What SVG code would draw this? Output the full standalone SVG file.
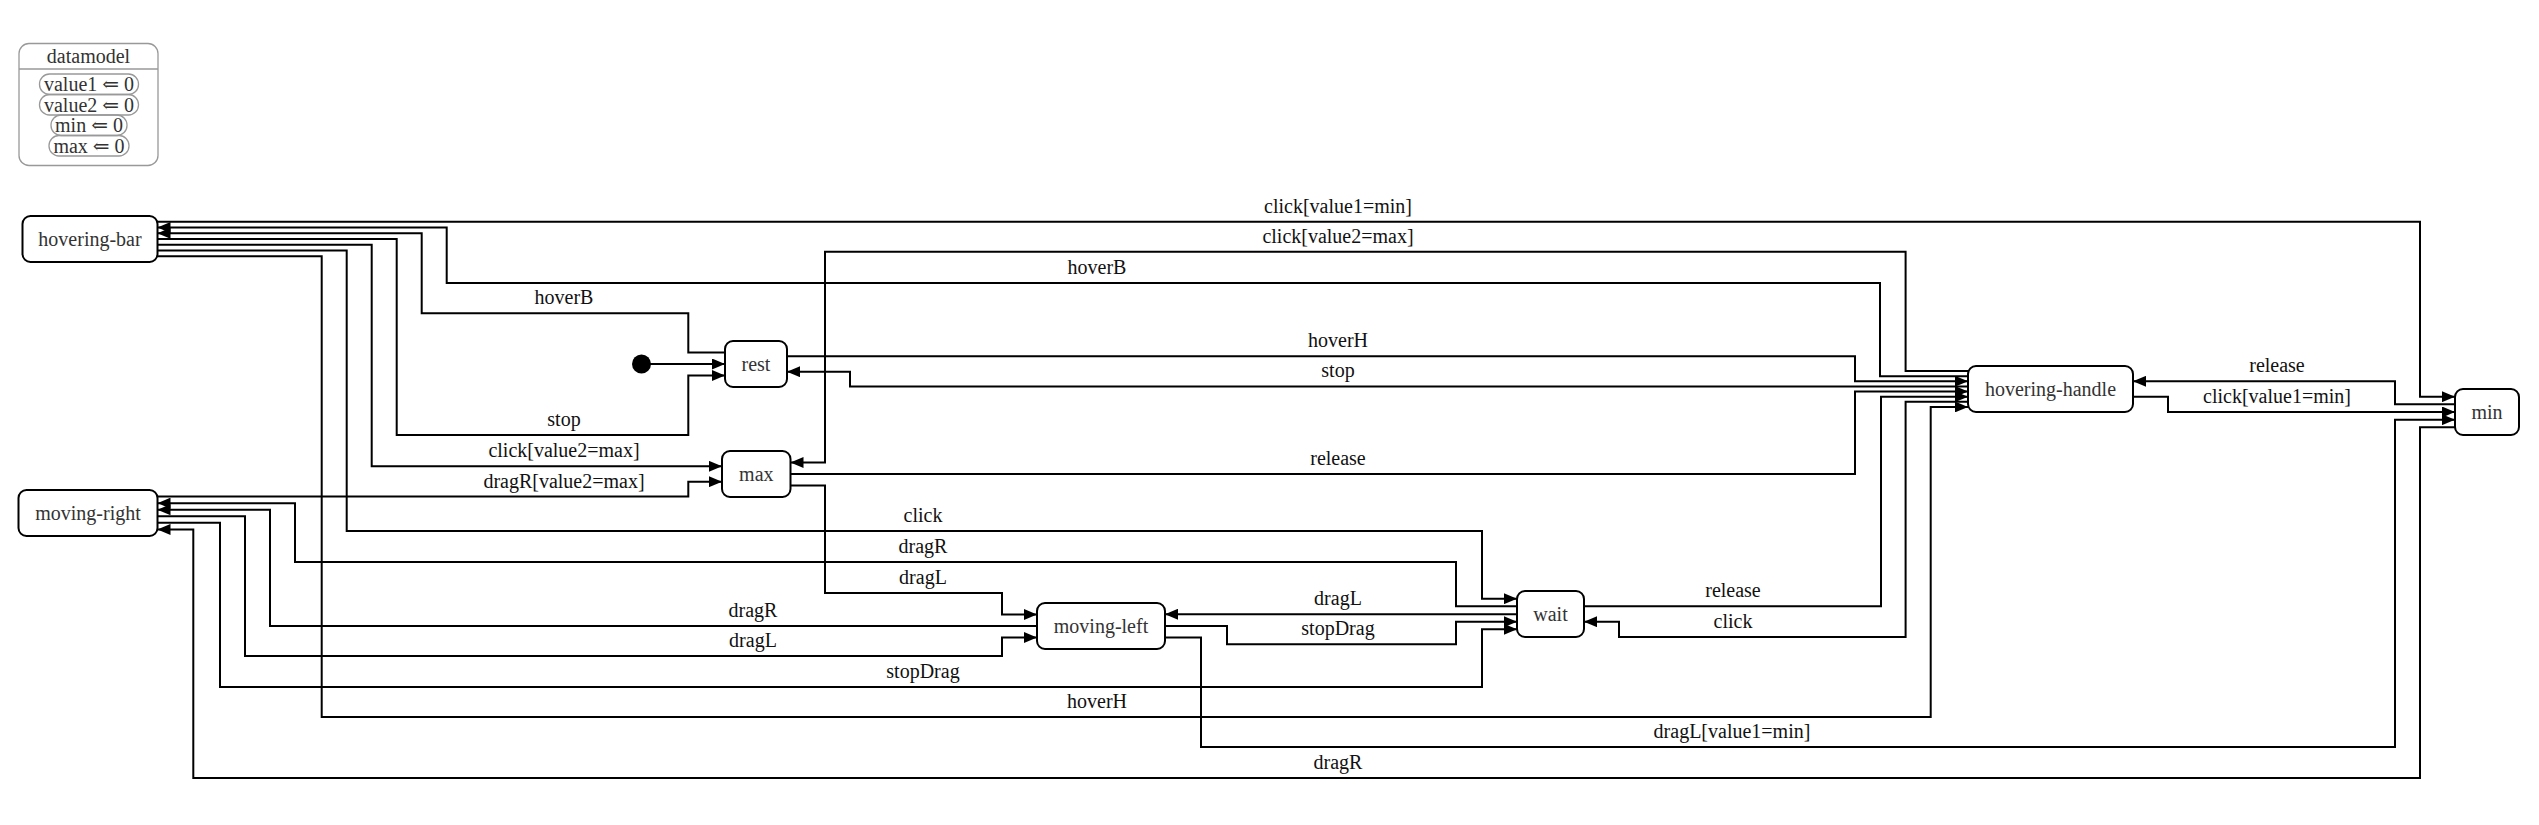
<svg xmlns="http://www.w3.org/2000/svg" width="2539" height="825" viewBox="0 0 2539 825" font-family="Liberation Serif, Times New Roman, serif">
<defs>
<style>
.node rect{fill:#fff;stroke:#000;stroke-width:2}
.node text{font-size:20px;fill:#333;text-anchor:middle}
.edges path{fill:none;stroke:#000;stroke-width:2;marker-end:url(#arr)}
.lbl text{font-size:20px;fill:#111;text-anchor:middle}
.dm rect{fill:none;stroke:#999;stroke-width:1.3}
.dm text{font-size:20px;fill:#333;text-anchor:middle}
</style>
<marker id="arr" viewBox="0 0 13 11" refX="13" refY="5.5" markerWidth="13" markerHeight="11" orient="auto" markerUnits="userSpaceOnUse">
<path d="M0,0 L13,5.5 L0,11 z" fill="#000"/>
</marker>
</defs>
<rect width="2539" height="825" fill="#fff"/>

<g id="datamodel" class="dm" font-family="Liberation Serif, DejaVu Serif, serif">
<rect x="19" y="43.5" width="139" height="122" rx="10" style="fill:#fff"/>
<line x1="19" y1="69" x2="158" y2="69" stroke="#999" stroke-width="1.3"/>
<text x="88.5" y="63">datamodel</text>
<rect x="39.5" y="74" width="99" height="20.5" rx="10"/>
<text x="89" y="91">value1 ⇐ 0</text>
<rect x="39.5" y="94.5" width="99" height="20.5" rx="10"/>
<text x="89" y="111.5">value2 ⇐ 0</text>
<rect x="51" y="115" width="76" height="20.5" rx="10"/>
<text x="89" y="132">min ⇐ 0</text>
<rect x="49" y="135.5" width="80" height="20.5" rx="10"/>
<text x="89" y="152.5">max ⇐ 0</text>
</g>

<g id="edges" class="edges">
<path d="M157.5,221.75 H2420 V396.67 H2455"/>
<path d="M1968,376.22 H1880 V283 H446.7 V227.5 H157.5"/>
<path d="M725,352.5 H688.3 V313.3 H421.7 V233.25 H157.5"/>
<path d="M157.5,239 H396.7 V435 H688.3 V375.5 H725"/>
<path d="M157.5,244.75 H371.7 V466.33 H722"/>
<path d="M157.5,250.5 H346.7 V531 H1482 V598.67 H1517"/>
<path d="M157.5,256.25 H321.7 V717 H1930.7 V406.89 H1968"/>
<path d="M650,364 H725"/>
<path d="M787,356.33 H1855 V381.33 H1968"/>
<path d="M1968,386.44 H850 V371.67 H787"/>
<path d="M1968,371.11 H1905.6 V251.7 H825 V462.5 H790.5"/>
<path d="M790.5,474 H1855 V391.56 H1968"/>
<path d="M790.5,485.5 H825 V593 H1002 V614.5 H1037"/>
<path d="M157.5,496.57 H688.3 V481.67 H722"/>
<path d="M1517,606.33 H1456 V562 H295 V503.14 H157.5"/>
<path d="M1037,626 H270 V509.71 H157.5"/>
<path d="M157.5,516.29 H245 V656 H1002 V637.5 H1037"/>
<path d="M157.5,522.86 H220 V687 H1482 V629.33 H1517"/>
<path d="M2455,427.33 H2420 V778 H193.3 V529.43 H157.5"/>
<path d="M1517,614.25 H1165"/>
<path d="M1165,626 H1227 V644.3 H1456 V621.67 H1517"/>
<path d="M1165,637.5 H1201 V747 H2395 V419.67 H2455"/>
<path d="M1584,606.33 H1881 V396.67 H1968"/>
<path d="M1968,401.78 H1905.6 V637 H1619 V621.67 H1584"/>
<path d="M2455,404.33 H2395 V381.33 H2133"/>
<path d="M2133,396.67 H2168 V412 H2455"/>
</g>

<g id="labels" class="lbl">
<text x="1338" y="212.5">click[value1=min]</text>
<text x="1338" y="242.7">click[value2=max]</text>
<text x="1097" y="274">hoverB</text>
<text x="564" y="304.3">hoverB</text>
<text x="1338" y="347.3">hoverH</text>
<text x="1338" y="377.4">stop</text>
<text x="564" y="426">stop</text>
<text x="564" y="457.3">click[value2=max]</text>
<text x="564" y="487.6">dragR[value2=max]</text>
<text x="1338" y="465">release</text>
<text x="923" y="522">click</text>
<text x="923" y="553">dragR</text>
<text x="923" y="584">dragL</text>
<text x="753" y="617">dragR</text>
<text x="753" y="647">dragL</text>
<text x="923" y="678">stopDrag</text>
<text x="1097" y="708">hoverH</text>
<text x="1732" y="738">dragL[value1=min]</text>
<text x="1338" y="769">dragR</text>
<text x="1338" y="605">dragL</text>
<text x="1338" y="635.3">stopDrag</text>
<text x="1733" y="597.3">release</text>
<text x="1733" y="628">click</text>
<text x="2277" y="372.3">release</text>
<text x="2277" y="403">click[value1=min]</text>
</g>

<g id="initial"><circle cx="641.5" cy="364" r="9.5" fill="#000"/></g>

<g id="hovering-bar" class="node"><rect x="22.5" y="216" width="135" height="46" rx="8"/><text x="90" y="246">hovering-bar</text></g>
<g id="moving-right" class="node"><rect x="18.5" y="490" width="139" height="46" rx="8"/><text x="88" y="520">moving-right</text></g>
<g id="rest" class="node"><rect x="725" y="341" width="62" height="46" rx="8"/><text x="756" y="371">rest</text></g>
<g id="max" class="node"><rect x="722" y="451" width="68.5" height="46" rx="8"/><text x="756.3" y="481">max</text></g>
<g id="moving-left" class="node"><rect x="1037" y="603" width="128" height="46" rx="8"/><text x="1101" y="633">moving-left</text></g>
<g id="wait" class="node"><rect x="1517" y="591" width="67" height="46" rx="8"/><text x="1550.5" y="621">wait</text></g>
<g id="hovering-handle" class="node"><rect x="1968" y="366" width="165" height="46" rx="8"/><text x="2050.5" y="396">hovering-handle</text></g>
<g id="min" class="node"><rect x="2455" y="389" width="64" height="46" rx="8"/><text x="2487" y="419">min</text></g>
</svg>
